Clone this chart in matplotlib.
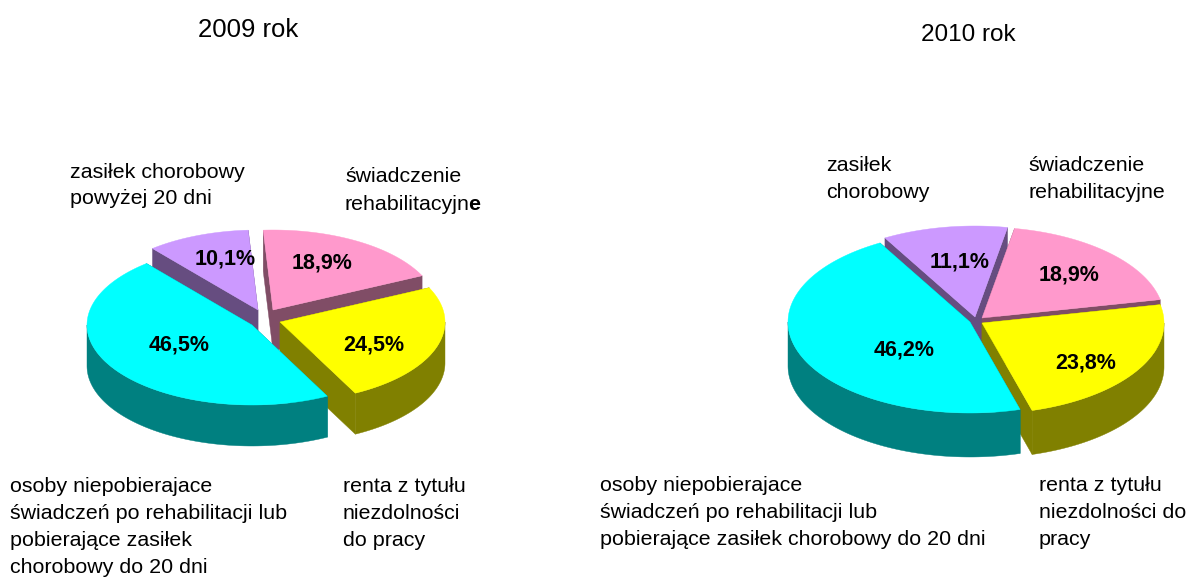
import numpy as np
import matplotlib
matplotlib.use('Agg')
import matplotlib.pyplot as plt

plt.rcParams['font.family'] = ['Liberation Sans', 'DejaVu Sans']

# udzialy (kolejnosc: od gory, zgodnie z zegarem)
categories = ['swiadczenie rehabilitacyjne', 'renta', 'osoby niepobierajace', 'zasilek chorobowy']
values_2009 = [18.9, 24.5, 46.5, 10.1]
values_2010 = [18.9, 23.8, 46.2, 11.1]
labels_2009 = ['18,9%', '24,5%', '46,5%', '10,1%']
labels_2010 = ['18,9%', '23,8%', '46,2%', '11,1%']

top_colors = ['#FF99CC', '#FFFF00', '#00FFFF', '#CC99FF']
side_colors = ['#804D66', '#808000', '#008080', '#664D80']

fig = plt.figure(figsize=(11.89, 5.77), dpi=100)
ax = fig.add_axes([0, 0, 1, 1])
ax.set_xlim(0, 1189)
ax.set_ylim(577, 0)
ax.axis('off')


def point(c, rx, ry, t):
    t = np.radians(t)
    return c[0] + rx * np.sin(t), c[1] - ry * np.cos(t)


def pie3d(values, labels, start, centers, label_pos, rx, ry, depth):
    edges = start + np.cumsum([0] + values) * 360.0 / sum(values)
    # rysowanie od tylu do przodu: fiolet, roz, zolty, niebieski
    for i in [3, 0, 1, 2]:
        a, b = edges[i], edges[i + 1]
        c = centers[i]
        # sciany przy srodku
        for t in (a, b):
            x, y = point(c, rx, ry, t)
            ax.fill([c[0], x, x, c[0]], [c[1], y, y + depth, c[1] + depth],
                    color=side_colors[i], lw=0.3)
        # sciana zewnetrzna
        lo, hi = max(a, 90), min(b, 270)
        if lo < hi:
            ts = np.linspace(lo, hi, 80)
            x, y = point(c, rx, ry, ts)
            ax.fill(np.r_[x, x[::-1]], np.r_[y, y[::-1] + depth],
                    color=side_colors[i], lw=0.3)
        # wierzch
        ts = np.linspace(a, b, 120)
        x, y = point(c, rx, ry, ts)
        ax.fill(np.r_[c[0], x], np.r_[c[1], y], color=top_colors[i], lw=0.3)
        ax.text(label_pos[i][0], label_pos[i][1], labels[i], fontsize=15.5, fontweight='bold',
                ha='center', va='center', color='black')


pie3d(values_2009, labels_2009, -3.4,
      [(273, 310), (280, 322), (252, 325), (258, 310)],
      [(322, 263), (374, 345), (179, 345), (225, 259)],
      165, 80, 41)
pie3d(values_2010, labels_2010, 10.3,
      [(982, 318), (982, 323), (970, 322), (975, 317)],
      [(1069, 275), (1086, 363), (904, 350), (960, 262)],
      182, 91, 44)


def lines(x, y0, rows, step=27):
    out = []
    for k, row in enumerate(rows):
        out.append(ax.text(x, y0 + k * step, row, fontsize=15.4, va='baseline', ha='left', color='black'))
    return out


ax.text(198, 37, '2009 rok', fontsize=18.5, va='baseline', color='black')
ax.text(921, 41, '2010 rok', fontsize=17.5, va='baseline', color='black')

lines(70, 178, ['zasiłek chorobowy', 'powyżej 20 dni'], 26)
t = lines(345, 182, ['świadczenie', 'rehabilitacyjn'], 28)
ax.annotate('e', xy=(1, 0), xycoords=t[1], xytext=(-1.5, 0), textcoords='offset points',
            va='bottom', ha='left', fontsize=15.4, fontweight='bold')
lines(10, 492, ['osoby niepobierajace', 'świadczeń po rehabilitacji lub', 'pobierające zasiłek', 'chorobowy do 20 dni'])
lines(343, 492, ['renta z tytułu', 'niezdolności', 'do pracy'])

lines(826, 171, ['zasiłek', 'chorobowy'])
lines(1028, 171, ['świadczenie', 'rehabilitacyjne'])
lines(600, 491, ['osoby niepobierajace', 'świadczeń po rehabilitacji lub', 'pobierające zasiłek chorobowy do 20 dni'])
lines(1039, 491, ['renta z tytułu', 'niezdolności do', 'pracy'])

fig.savefig('out.png', dpi=100, facecolor='white')
